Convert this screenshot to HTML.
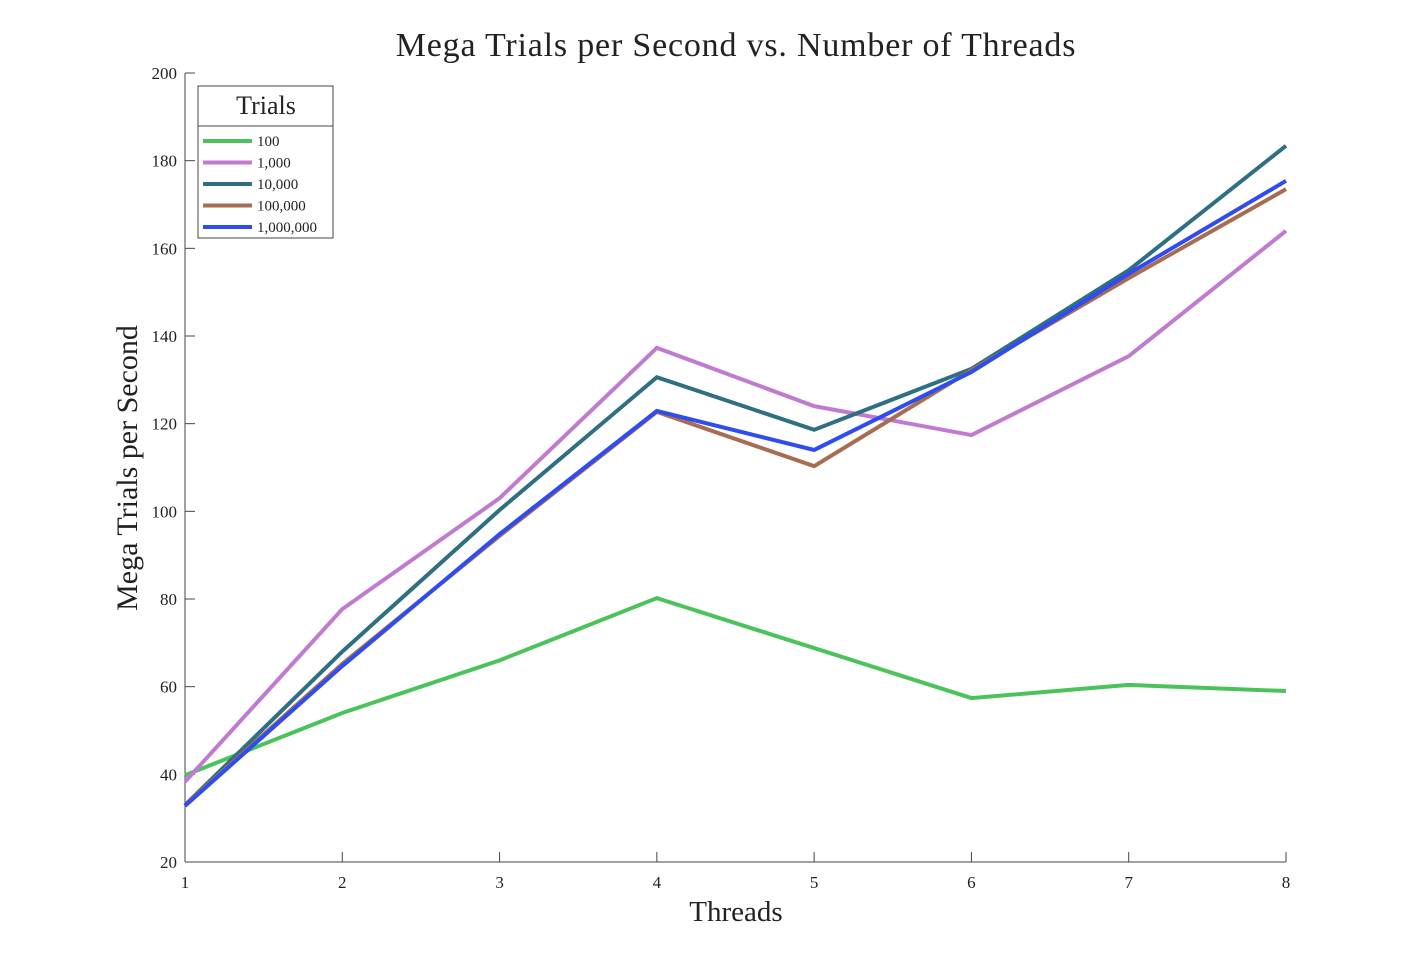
<!DOCTYPE html>
<html><head><meta charset="utf-8"><style>
html,body{margin:0;padding:0;background:#fff;}
svg text{font-family:"Liberation Serif",serif;fill:#222;}
</style></head><body>
<svg id="chart" width="1422" height="968" xmlns="http://www.w3.org/2000/svg">
<text x="736" y="56" font-size="34" letter-spacing="0.8" text-anchor="middle">Mega Trials per Second vs. Number of Threads</text>
<text x="736" y="921" font-size="29" text-anchor="middle">Threads</text>
<text transform="translate(137,468) rotate(-90)" font-size="30" text-anchor="middle">Mega Trials per Second</text>
<g id="axes"></g>
<g id="lines"></g>
<g id="legend"></g>
</svg>
<script>
const threads=[1,2,3,4,5,6,7,8];
const seriesNames=["100","1,000","10,000","100,000","1,000,000"];
const s100=[39.8,54,66,80.2,68.8,57.4,60.4,59];
const s1000=[38.3,77.7,103,137.3,124,117.4,135.4,164];
const s10000=[33,68,100.3,130.6,118.6,132.5,155,183.4];
const s100000=[33,65.2,94.4,122.7,110.3,132.2,153.2,173.5];
const s1000000=[32.8,64.7,94.8,122.9,114,131.8,154.2,175.4];
const yTicks=[20,40,60,80,100,120,140,160,180,200];
const xTicks=[1,2,3,4,5,6,7,8];
const colors=["#4cc35a","#c07bd0","#2f6f82","#a86c52","#2e4cf0"];
const allSeries=[s100,s1000,s10000,s100000,s1000000];
const NS="http://www.w3.org/2000/svg";
const X0=185,X1=1286,Y0=862,Y1=73;
const xs=v=>X0+(v-1)/(8-1)*(X1-X0);
const ys=v=>Y0-(v-20)/(200-20)*(Y0-Y1);
function mk(t,a,p){const e=document.createElementNS(NS,t);for(const k in a)e.setAttribute(k,a[k]);p.appendChild(e);return e;}
const axes=document.getElementById('axes');
let yl=mk('line',{x1:X0,y1:Y1,x2:X0,y2:Y0,stroke:'#444','stroke-width':1},axes);


let xl=mk('line',{x1:X0,y1:Y0,x2:X1,y2:Y0,stroke:'#444','stroke-width':1},axes);


yTicks.forEach(v=>{
 mk('line',{x1:X0,y1:ys(v),x2:X0+10,y2:ys(v),stroke:'#444'},axes);
 const t=mk('text',{x:X0-8,y:ys(v)+6,'font-size':17,'text-anchor':'end'},axes);
 t.textContent=v;
 
 
});
xTicks.forEach(v=>{
 mk('line',{x1:xs(v),y1:Y0,x2:xs(v),y2:Y0-10,stroke:'#444'},axes);
 const t=mk('text',{x:xs(v),y:Y0+26,'font-size':17,'text-anchor':'middle'},axes);
 t.textContent=v;
 
 
});
const lines=document.getElementById('lines');
allSeries.forEach((s,i)=>{
 const p=mk('polyline',{points:s.map((v,j)=>xs(threads[j])+','+ys(v)).join(' '),fill:'none',stroke:colors[i],'stroke-width':4,'stroke-linejoin':'miter'},lines);
 
 
});
const lg=document.getElementById('legend');


mk('rect',{x:198,y:86,width:135,height:152,fill:'#fff',stroke:'#444','stroke-width':1},lg);
mk('line',{x1:198,y1:126,x2:333,y2:126,stroke:'#444'},lg);
const lt=mk('text',{x:266,y:114,'font-size':26,'text-anchor':'middle'},lg);
lt.textContent='Trials';


seriesNames.forEach((n,i)=>{
 const y=141+i*21.5;
 const g=mk('g',{},lg);
 
 
 mk('line',{x1:203,y1:y,x2:252,y2:y,stroke:colors[i],'stroke-width':4},g);
 const t=mk('text',{x:257,y:y+5,'font-size':15},g);
 t.textContent=n;
});
</script>
</body></html>
